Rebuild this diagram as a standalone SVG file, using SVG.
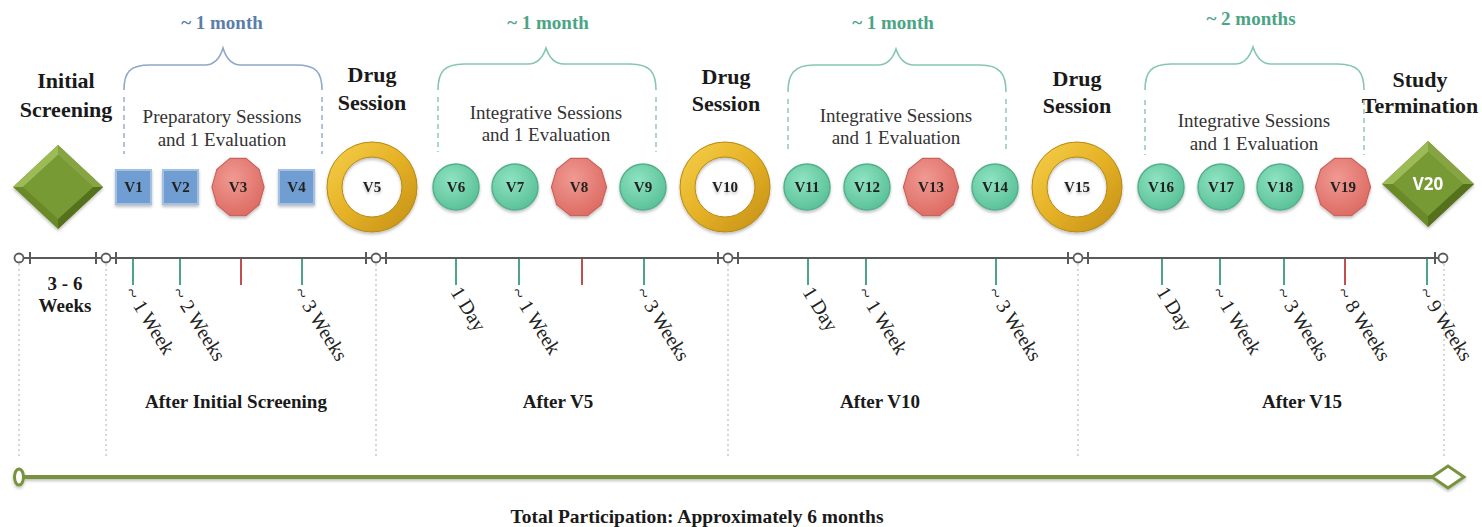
<svg xmlns="http://www.w3.org/2000/svg" xmlns:xlink="http://www.w3.org/1999/xlink" width="1482" height="527" viewBox="0 0 1482 527">
<style>
.title{font-family:"Liberation Serif","Times New Roman",serif;font-weight:bold;font-size:22px;fill:#1a1a1a;text-anchor:middle}
.sect{font-family:"Liberation Serif","Times New Roman",serif;font-size:19px;fill:#333;text-anchor:middle}
.dur{font-family:"Liberation Serif","Times New Roman",serif;font-weight:bold;font-size:19px;text-anchor:middle}
.lbl{font-family:"Liberation Serif","Times New Roman",serif;font-weight:bold;font-size:15px;fill:#222;text-anchor:middle}
.rot{font-family:"Liberation Serif","Times New Roman",serif;font-size:20px;fill:#222}
.after{font-family:"Liberation Serif","Times New Roman",serif;font-weight:bold;font-size:19px;fill:#1a1a1a;text-anchor:middle}
.brace{fill:none;stroke-width:1.6}
.bb{stroke:#8ea8c9}.bt{stroke:#86c6b0}
.dash{fill:none;stroke-width:1.4;stroke-dasharray:5 4}
.tl{stroke:#5a5a5a;stroke-width:2;fill:none}
.mk{fill:#fff;stroke:#5a5a5a;stroke-width:1.8}
.tg{stroke:#4ea583;stroke-width:2}
.tr{stroke:#c0504d;stroke-width:2}
.dot{stroke:#bdbdbd;stroke-width:1.2;stroke-dasharray:2 3}
.sq{fill:#6f9dd2;stroke:#a3c0e2;stroke-width:2}
.gc{fill:url(#gGreen);stroke:#54b08d;stroke-width:1.5}
.oc{fill:url(#gRed);stroke:#c8625b;stroke-width:1.2}
.ring{fill:none;stroke:url(#gGold);stroke-width:15}
.ringe{fill:none;stroke:#b58a12;stroke-width:1}
</style>
<defs>
<radialGradient id="gGreen" cx="0.4" cy="0.35" r="0.7">
<stop offset="0" stop-color="#8fe3c2"/><stop offset="1" stop-color="#58c096"/>
</radialGradient>
<radialGradient id="gRed" cx="0.4" cy="0.35" r="0.7">
<stop offset="0" stop-color="#f09a92"/><stop offset="1" stop-color="#dc6a62"/>
</radialGradient>
<linearGradient id="gGold" x1="0" y1="0" x2="1" y2="1">
<stop offset="0" stop-color="#f3cb45"/><stop offset="0.5" stop-color="#e5b125"/><stop offset="1" stop-color="#c8941a"/>
</linearGradient>
<polygon id="dec" points="29,0 23.46,17.05 8.96,27.58 -8.96,27.58 -23.46,17.05 -29,0 -23.46,-17.05 -8.96,-27.58 8.96,-27.58 23.46,-17.05"/>
<filter id="sh" x="-10%" y="-10%" width="120%" height="130%">
<feDropShadow dx="0" dy="2" stdDeviation="1.5" flood-color="#000" flood-opacity="0.25"/>
</filter>
</defs>
<rect width="1482" height="527" fill="#fff"/>

<!-- titles -->
<g id="titles">
<text class="title" x="66" y="88" font-size="23">Initial</text>
<text class="title" x="66" y="117" font-size="23">Screening</text>
<text class="title" x="372" y="82">Drug</text>
<text class="title" x="372" y="110">Session</text>
<text class="title" x="726" y="84">Drug</text>
<text class="title" x="726" y="111">Session</text>
<text class="title" x="1077" y="86">Drug</text>
<text class="title" x="1077" y="113">Session</text>
<text class="title" x="1420" y="87">Study</text>
<text class="title" x="1420" y="113">Termination</text>
</g>

<!-- braces -->
<g id="brace1">
<text class="dur" x="222" y="29" fill="#5a7eab">~ 1 month</text>
<path class="brace bb" d="M124,90 C124,72 130,65 150,65 L205,65 C215,65 220,58 223,48 C226,58 231,65 241,65 L296,65 C316,65 322,72 322,90"/>
<line class="dash bb" x1="124" y1="97" x2="124" y2="154"/>
<line class="dash bb" x1="322" y1="97" x2="322" y2="154"/>
<text class="sect" x="222" y="123">Preparatory Sessions</text>
<text class="sect" x="222" y="146">and 1 Evaluation</text>
</g>
<g id="brace2">
<text class="dur" x="548" y="29" fill="#4aa584">~ 1 month</text>
<path class="brace bt" d="M438,90 C438,72 444,64 464,64 L528,64 C538,64 543,57 546,48 C549,57 554,64 564,64 L630,64 C650,64 656,72 656,90"/>
<line class="dash bt" x1="438" y1="97" x2="438" y2="152"/>
<line class="dash bt" x1="656" y1="97" x2="656" y2="152"/>
<text class="sect" x="546" y="119">Integrative Sessions</text>
<text class="sect" x="546" y="141">and 1 Evaluation</text>
</g>
<g id="brace3">
<text class="dur" x="893" y="29" fill="#4aa584">~ 1 month</text>
<path class="brace bt" d="M788,92 C788,74 794,65 814,65 L878,65 C888,65 893,58 896,49 C899,58 904,65 914,65 L980,65 C1000,65 1006,74 1006,92"/>
<line class="dash bt" x1="788" y1="99" x2="788" y2="153"/>
<line class="dash bt" x1="1006" y1="99" x2="1006" y2="153"/>
<text class="sect" x="896" y="122">Integrative Sessions</text>
<text class="sect" x="896" y="144">and 1 Evaluation</text>
</g>
<g id="brace4">
<text class="dur" x="1251" y="25" fill="#4aa584">~ 2 months</text>
<path class="brace bt" d="M1145,90 C1145,72 1151,64 1171,64 L1235,64 C1245,64 1250,56 1253,47 C1256,56 1261,64 1271,64 L1338,64 C1358,64 1364,72 1364,90"/>
<line class="dash bt" x1="1145" y1="100" x2="1145" y2="155"/>
<line class="dash bt" x1="1364" y1="100" x2="1364" y2="155"/>
<text class="sect" x="1254" y="127">Integrative Sessions</text>
<text class="sect" x="1254" y="150">and 1 Evaluation</text>
</g>

<!-- nodes -->
<g id="init" filter="url(#sh)">
<polygon points="58,145 103,187 58,229 13,187" fill="#6a8a2c"/>
<polygon points="58,145 13,187 23,187 58,155" fill="#9cba54"/>
<polygon points="58,145 103,187 93,187 58,155" fill="#86a542"/>
<polygon points="58,229 103,187 93,187 58,219" fill="#55711f"/>
<polygon points="58,155 93,187 58,219 23,187" fill="#789a34"/>
</g>
<g id="v1" filter="url(#sh)"><rect class="sq" x="116" y="170" width="35" height="34"/><text class="lbl" x="133.5" y="192">V1</text></g>
<g id="v2" filter="url(#sh)"><rect class="sq" x="163" y="170" width="35" height="34"/><text class="lbl" x="180.5" y="192">V2</text></g>
<g id="v3" filter="url(#sh)"><use xlink:href="#dec" class="oc" transform="translate(238,187) scale(0.9,1.04)"/><text class="lbl" x="238" y="192">V3</text></g>
<g id="v4" filter="url(#sh)"><rect class="sq" x="279" y="170" width="35" height="34"/><text class="lbl" x="296.5" y="192">V4</text></g>
<g id="v5" filter="url(#sh)"><circle class="ring" cx="372" cy="187" r="37.5"/><circle class="ringe" cx="372" cy="187" r="45"/><circle class="ringe" cx="372" cy="187" r="30"/><text class="lbl" x="372" y="192" font-size="14">V5</text></g>
<g id="v6" filter="url(#sh)"><circle class="gc" cx="456" cy="187" r="23"/><text class="lbl" x="456" y="192">V6</text></g>
<g id="v7" filter="url(#sh)"><circle class="gc" cx="515" cy="187" r="23"/><text class="lbl" x="515" y="192">V7</text></g>
<g id="v8" filter="url(#sh)"><use xlink:href="#dec" class="oc" transform="translate(579,187) scale(0.95,1.04)"/><text class="lbl" x="579" y="192">V8</text></g>
<g id="v9" filter="url(#sh)"><circle class="gc" cx="643" cy="187" r="23"/><text class="lbl" x="643" y="192">V9</text></g>
<g id="v10" filter="url(#sh)"><circle class="ring" cx="725" cy="187" r="37.5"/><circle class="ringe" cx="725" cy="187" r="45"/><circle class="ringe" cx="725" cy="187" r="30"/><text class="lbl" x="725" y="192" font-size="14">V10</text></g>
<g id="v11" filter="url(#sh)"><circle class="gc" cx="807" cy="187" r="23"/><text class="lbl" x="807" y="192">V11</text></g>
<g id="v12" filter="url(#sh)"><circle class="gc" cx="867" cy="187" r="23"/><text class="lbl" x="867" y="192">V12</text></g>
<g id="v13" filter="url(#sh)"><use xlink:href="#dec" class="oc" transform="translate(931,187) scale(0.95,1.04)"/><text class="lbl" x="931" y="192">V13</text></g>
<g id="v14" filter="url(#sh)"><circle class="gc" cx="995" cy="187" r="23"/><text class="lbl" x="995" y="192">V14</text></g>
<g id="v15" filter="url(#sh)"><circle class="ring" cx="1077" cy="187" r="37.5"/><circle class="ringe" cx="1077" cy="187" r="45"/><circle class="ringe" cx="1077" cy="187" r="30"/><text class="lbl" x="1077" y="192" font-size="14">V15</text></g>
<g id="v16" filter="url(#sh)"><circle class="gc" cx="1161" cy="187" r="23"/><text class="lbl" x="1161" y="192">V16</text></g>
<g id="v17" filter="url(#sh)"><circle class="gc" cx="1221" cy="187" r="23"/><text class="lbl" x="1221" y="192">V17</text></g>
<g id="v18" filter="url(#sh)"><circle class="gc" cx="1280" cy="187" r="23"/><text class="lbl" x="1280" y="192">V18</text></g>
<g id="v19" filter="url(#sh)"><use xlink:href="#dec" class="oc" transform="translate(1343,187) scale(0.95,1.04)"/><text class="lbl" x="1343" y="192">V19</text></g>
<g id="v20" filter="url(#sh)">
<polygon points="1428,141 1474,184 1428,227 1382,184" fill="#6a8a2c"/>
<polygon points="1428,141 1382,184 1393,184 1428,152" fill="#9cba54"/>
<polygon points="1428,141 1474,184 1463,184 1428,152" fill="#86a542"/>
<polygon points="1428,227 1474,184 1463,184 1428,216" fill="#55711f"/>
<polygon points="1428,152 1463,184 1428,216 1393,184" fill="#789a34"/>
<text x="1428" y="190" text-anchor="middle" font-family="'Open Sans','Liberation Sans',sans-serif" font-weight="bold" font-size="17" fill="#fff">V20</text>
</g>

<!-- timeline connectors -->
<g id="timeline">
<line class="dot" x1="19" y1="264" x2="19" y2="457"/>
<line class="dot" x1="106" y1="264" x2="106" y2="457"/>
<line class="dot" x1="376" y1="264" x2="376" y2="457"/>
<line class="dot" x1="728" y1="264" x2="728" y2="457"/>
<line class="dot" x1="1078" y1="264" x2="1078" y2="457"/>
<line class="dot" x1="1444" y1="264" x2="1444" y2="457"/>
<line class="tl" x1="23" y1="258" x2="1439" y2="258"/>
<line class="tl" x1="30" y1="252" x2="30" y2="264"/>
<circle class="mk" cx="19" cy="258" r="4.5"/>
<line class="tl" x1="96" y1="252" x2="96" y2="264"/><line class="tl" x1="116" y1="252" x2="116" y2="264"/><circle class="mk" cx="106" cy="258" r="4.5"/>
<line class="tl" x1="366" y1="252" x2="366" y2="264"/><line class="tl" x1="386" y1="252" x2="386" y2="264"/><circle class="mk" cx="376" cy="258" r="4.5"/>
<line class="tl" x1="718" y1="252" x2="718" y2="264"/><line class="tl" x1="738" y1="252" x2="738" y2="264"/><circle class="mk" cx="728" cy="258" r="4.5"/>
<line class="tl" x1="1068" y1="252" x2="1068" y2="264"/><line class="tl" x1="1088" y1="252" x2="1088" y2="264"/><circle class="mk" cx="1078" cy="258" r="4.5"/>
<line class="tl" x1="1435" y1="252" x2="1435" y2="264"/><circle class="mk" cx="1443" cy="258" r="4.5"/>
<line class="tg" x1="133" y1="259" x2="133" y2="285"/>
<line class="tg" x1="180" y1="259" x2="180" y2="285"/>
<line class="tr" x1="241" y1="259" x2="241" y2="285"/>
<line class="tg" x1="302" y1="259" x2="302" y2="285"/>
<line class="tg" x1="456" y1="259" x2="456" y2="285"/>
<line class="tg" x1="519" y1="259" x2="519" y2="285"/>
<line class="tr" x1="582" y1="259" x2="582" y2="285"/>
<line class="tg" x1="644" y1="259" x2="644" y2="285"/>
<line class="tg" x1="808" y1="259" x2="808" y2="285"/>
<line class="tg" x1="866" y1="259" x2="866" y2="285"/>
<line class="tg" x1="996" y1="259" x2="996" y2="285"/>
<line class="tg" x1="1162" y1="259" x2="1162" y2="285"/>
<line class="tg" x1="1220" y1="259" x2="1220" y2="285"/>
<line class="tg" x1="1284" y1="259" x2="1284" y2="285"/>
<line class="tr" x1="1345" y1="259" x2="1345" y2="285"/>
<line class="tg" x1="1427" y1="259" x2="1427" y2="285"/>
</g>

<g id="ticklabels">
<text class="rot" transform="translate(124,292) rotate(58)">~ 1 Week</text>
<text class="rot" transform="translate(171,292) rotate(58)">~ 2 Weeks</text>
<text class="rot" transform="translate(293,292) rotate(58)">~ 3 Weeks</text>
<text class="rot" transform="translate(450,292) rotate(58)">1 Day</text>
<text class="rot" transform="translate(510,292) rotate(58)">~ 1 Week</text>
<text class="rot" transform="translate(635,292) rotate(58)">~ 3 Weeks</text>
<text class="rot" transform="translate(802,292) rotate(58)">1 Day</text>
<text class="rot" transform="translate(857,292) rotate(58)">~ 1 Week</text>
<text class="rot" transform="translate(987,292) rotate(58)">~ 3 Weeks</text>
<text class="rot" transform="translate(1156,292) rotate(58)">1 Day</text>
<text class="rot" transform="translate(1211,292) rotate(58)">~ 1 Week</text>
<text class="rot" transform="translate(1275,292) rotate(58)">~ 3 Weeks</text>
<text class="rot" transform="translate(1336,292) rotate(58)">~ 8 Weeks</text>
<text class="rot" transform="translate(1418,292) rotate(58)">~ 9 Weeks</text>
</g>

<g id="phases">
<text class="after" x="65" y="290">3 - 6</text>
<text class="after" x="65" y="312">Weeks</text>
<text class="after" x="236" y="408">After Initial Screening</text>
<text class="after" x="558" y="408">After V5</text>
<text class="after" x="880" y="408">After V10</text>
<text class="after" x="1302" y="408">After V15</text>
</g>

<g id="total" filter="url(#sh)">
<line x1="24" y1="477" x2="1432" y2="477" stroke="#77933c" stroke-width="4"/>
<ellipse cx="19" cy="477" rx="4.5" ry="8" fill="#fff" stroke="#77933c" stroke-width="3"/>
<polygon points="1432,477 1448,466 1464,477 1448,488" fill="#fff" stroke="#77933c" stroke-width="3"/>
</g>
<text x="697" y="523" text-anchor="middle" font-family="'Liberation Serif','Times New Roman',serif" font-weight="bold" font-size="19" fill="#1a1a1a" textLength="373" lengthAdjust="spacingAndGlyphs">Total Participation: Approximately 6 months</text>
</svg>
